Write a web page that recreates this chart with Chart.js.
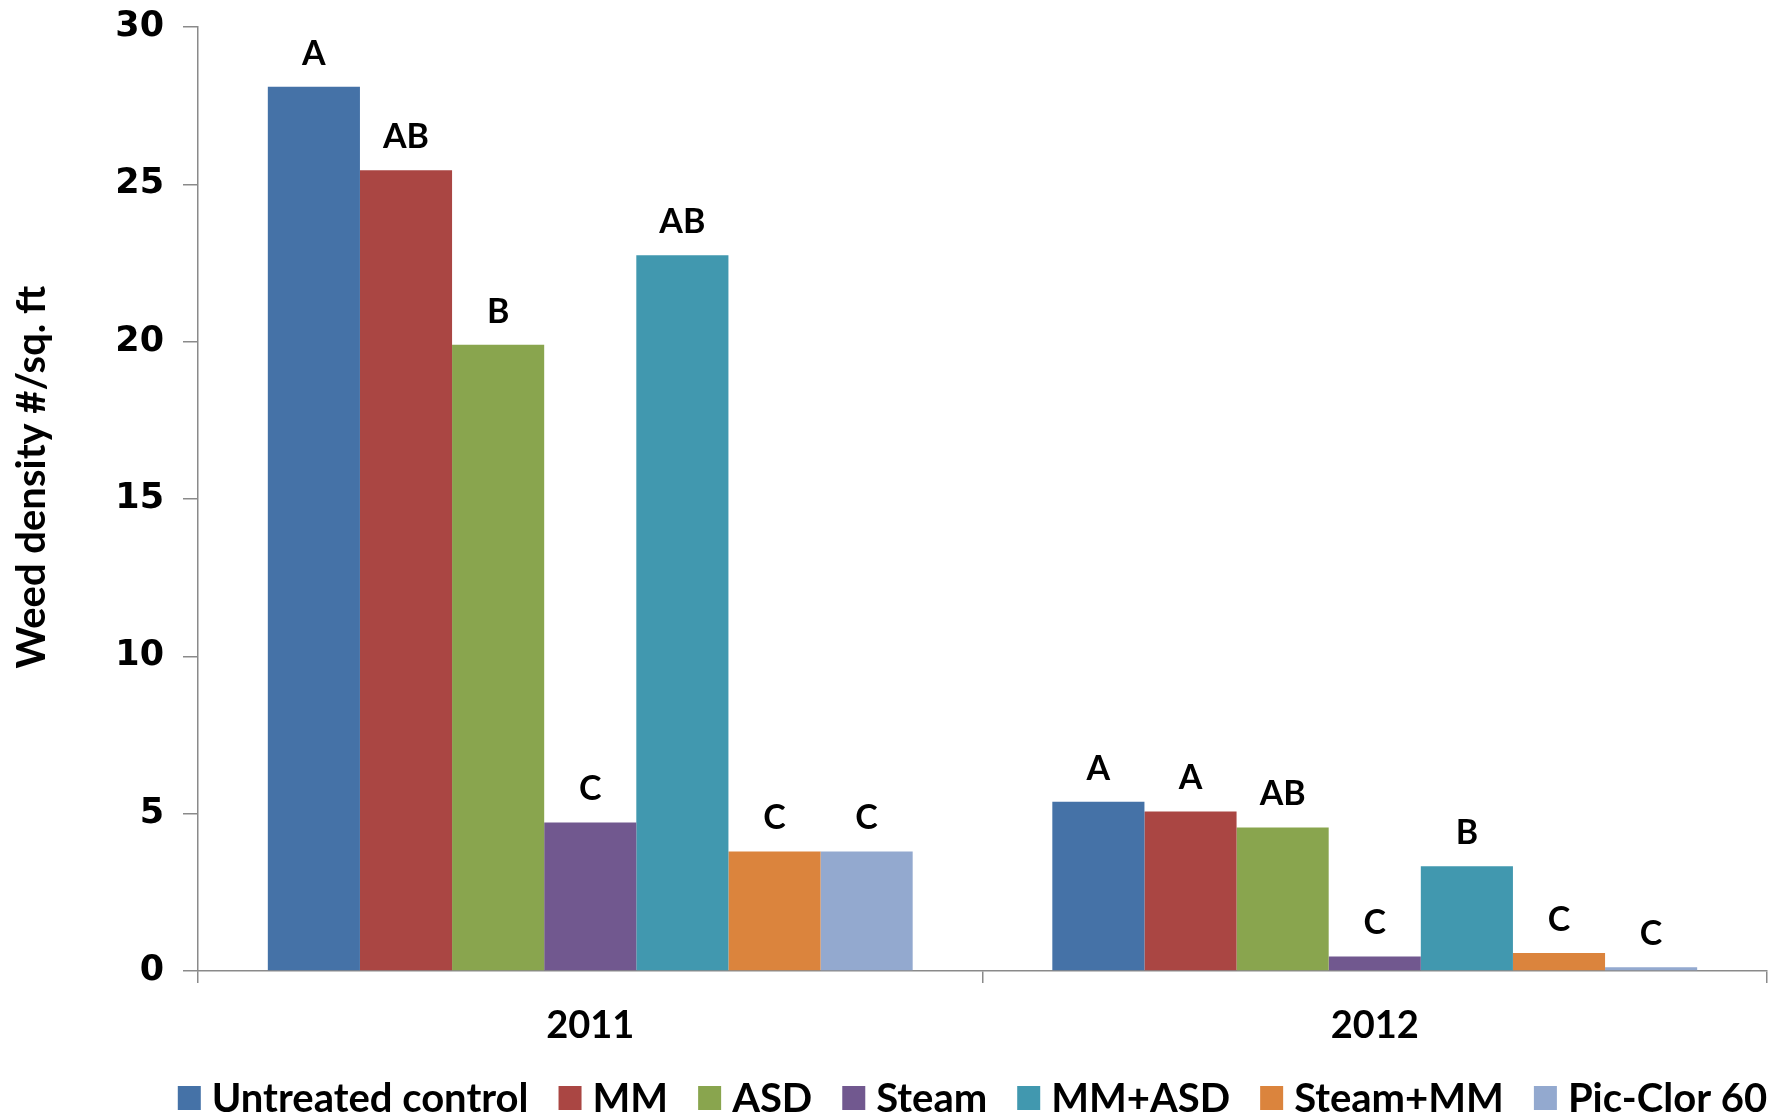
<!DOCTYPE html>
<html>
<head>
<meta charset="utf-8">
<title>Weed density by treatment</title>
<script src="https://cdn.jsdelivr.net/npm/chart.js@4.4.1/dist/chart.umd.min.js"></script>
<style>
  html, body { margin: 0; padding: 0; background: #ffffff; }
  #wrap { width: 1782px; height: 1120px; position: relative; }
</style>
</head>
<body>
<div id="wrap"><canvas id="chart" width="1782" height="1120"></canvas></div>
<script>
// Years on the category axis
const years = ['2011', '2012'];

// Treatments (one series each)
const treatments = ['Untreated control', 'MM', 'ASD', 'Steam', 'MM+ASD', 'Steam+MM', 'Pic-Clor 60'];

// Weed density (#/sq. ft) per treatment, [2011, 2012]
const untreated = [28.1, 5.38];
const mm        = [25.45, 5.07];
const asd       = [19.9, 4.56];
const steam     = [4.72, 0.46];
const mmAsd     = [22.75, 3.33];
const steamMm   = [3.8, 0.57];
const picClor   = [3.8, 0.12];

// Mean separation letters, [2011, 2012]
const lettersUntreated = ['A', 'A'];
const lettersMm        = ['AB', 'A'];
const lettersAsd       = ['B', 'AB'];
const lettersSteam     = ['C', 'C'];
const lettersMmAsd     = ['AB', 'B'];
const lettersSteamMm   = ['C', 'C'];
const lettersPicClor   = ['C', 'C'];

// Value axis ticks and title
const yTicks = [0, 5, 10, 15, 20, 25, 30];
const yTitle = 'Weed density #/sq. ft';

const colors = ['#4572A7', '#AA4643', '#89A54E', '#71588F', '#4198AF', '#DB843D', '#93A9CF'];
const seriesValues = [untreated, mm, asd, steam, mmAsd, steamMm, picClor];
const seriesLetters = [lettersUntreated, lettersMm, lettersAsd, lettersSteam, lettersMmAsd, lettersSteamMm, lettersPicClor];

const datasets = treatments.map((name, i) => ({
  label: name,
  data: seriesValues[i],
  letters: seriesLetters[i],
  backgroundColor: colors[i],
  borderWidth: 0,
  barPercentage: 1.0,
  categoryPercentage: 0.822
}));

const AXIS_GRAY = '#8a8a8a';
const LABEL_FONT = 'Lato, "Liberation Sans", sans-serif';
const PLOT_LEFT = 198;
const PLOT_BOTTOM = 971;

// Writes the significance letter above every bar
const letterPlugin = {
  id: 'barLetters',
  afterDatasetsDraw(chart) {
    const ctx = chart.ctx;
    ctx.save();
    ctx.font = 'bold 34px ' + LABEL_FONT;
    ctx.fillStyle = '#000000';
    ctx.textAlign = 'center';
    ctx.textBaseline = 'middle';
    chart.data.datasets.forEach((ds, di) => {
      const meta = chart.getDatasetMeta(di);
      meta.data.forEach((bar, j) => {
        ctx.fillText(ds.letters[j], bar.x, bar.y - 33);
      });
    });
    ctx.restore();
  }
};

// Rotated value-axis title, sitting a little above the axis midpoint
const axisTitle = {
  id: 'axisTitle',
  afterDraw(chart) {
    const ctx = chart.ctx;
    const area = chart.chartArea;
    ctx.save();
    ctx.font = 'bold 40px ' + LABEL_FONT;
    ctx.fillStyle = '#000000';
    ctx.textAlign = 'center';
    ctx.textBaseline = 'middle';
    ctx.translate(32, (area.top + area.bottom) / 2 - 22);
    ctx.rotate(-Math.PI / 2);
    ctx.fillText(yTitle, 0, 0);
    ctx.restore();
  }
};

// Single-row legend under the category labels, centred on the plot
const bottomLegend = {
  id: 'bottomLegend',
  afterDraw(chart) {
    const ctx = chart.ctx;
    const box = { w: 23, h: 24 }, gap = 11, spacing = 30, cy = 1098;
    ctx.save();
    ctx.font = 'bold 40px ' + LABEL_FONT;
    ctx.textBaseline = 'middle';
    ctx.textAlign = 'left';
    const items = chart.data.datasets.map(ds => ({
      text: ds.label, color: ds.backgroundColor, tw: ctx.measureText(ds.label).width
    }));
    const total = items.reduce((s, it) => s + box.w + gap + it.tw, 0) + spacing * (items.length - 1);
    const area = chart.chartArea;
    let x = (area.left + area.right) / 2 - 10 - total / 2;
    items.forEach(it => {
      ctx.fillStyle = it.color;
      ctx.fillRect(x, cy - box.h / 2, box.w, box.h);
      x += box.w + gap;
      ctx.fillStyle = '#000000';
      ctx.fillText(it.text, x, cy + 1);
      x += it.tw + spacing;
    });
    ctx.restore();
  }
};

new Chart(document.getElementById('chart'), {
  type: 'bar',
  data: { labels: years, datasets },
  plugins: [letterPlugin, axisTitle, bottomLegend],
  options: {
    responsive: false,
    animation: false,
    layout: { padding: { top: 0, right: 15, left: 0, bottom: 0 } },
    plugins: {
      title: { display: false },
      tooltip: { enabled: false },
      legend: { display: false }
    },
    scales: {
      x: {
        grid: {
          offset: true,
          drawOnChartArea: false,
          drawTicks: true,
          tickLength: 12,
          color: AXIS_GRAY,
          lineWidth: 1.5
        },
        border: { display: true, color: AXIS_GRAY, width: 1.5 },
        ticks: {
          color: '#000000',
          font: { family: LABEL_FONT, size: 38, weight: 'bold' },
          padding: 20
        },
        afterFit(scale) {
          scale.height = scale.chart.height - PLOT_BOTTOM;
        }
      },
      y: {
        min: 0,
        max: 30,
        afterBuildTicks(scale) {
          scale.ticks = yTicks.map(v => ({ value: v }));
        },
        grid: {
          drawOnChartArea: false,
          drawTicks: true,
          tickLength: 15,
          color: AXIS_GRAY,
          lineWidth: 1.5
        },
        border: { display: true, color: AXIS_GRAY, width: 1.5 },
        ticks: {
          color: '#000000',
          font: { family: '"DejaVu Sans", Verdana, sans-serif', size: 35, weight: 'bold', lineHeight: 0.46 },
          padding: 19
        },
        title: { display: false },
        afterFit(scale) {
          scale.width = PLOT_LEFT;
        }
      }
    }
  }
});
</script>
</body>
</html>
